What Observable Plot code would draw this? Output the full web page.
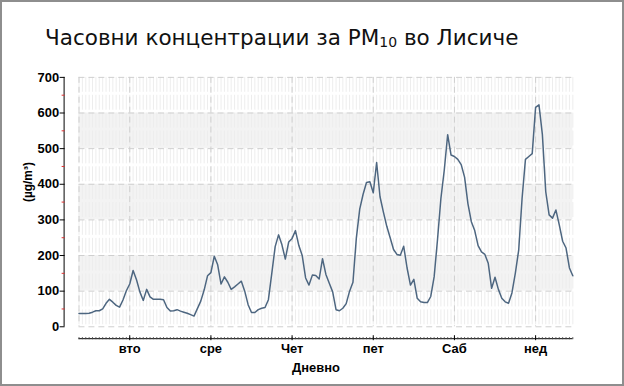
<!DOCTYPE html>
<html><head><meta charset="utf-8">
<script src="https://cdn.jsdelivr.net/npm/d3@7"></script>
<script src="https://cdn.jsdelivr.net/npm/@observablehq/plot@0.6"></script>
<style>
html,body{margin:0;padding:0;background:#fff;}
#frame{position:relative;width:624px;height:386px;box-sizing:border-box;border:2px solid #8e8e8e;overflow:hidden;background:#fff;}
#title{position:absolute;left:43px;top:23px;font-family:"DejaVu Sans";font-size:21.5px;color:#111;white-space:nowrap;}
#title sub{font-size:14px;vertical-align:-2px;line-height:0;}
#chart{position:absolute;left:-2px;top:58px;}
</style></head>
<body>
<div id="frame">
<div id="title">Часовни концентрации за PM<sub>10</sub> во Лисиче</div>
<div id="chart"></div>
</div>
<script>
// hourly PM10 values, Monday 09:00 → Sunday 11:00
const pm10 = [37,37,37,38,41,45,45,50,66,77,69,60,55,75,101,120,158,132,98,74,105,84,77,77,77,76,54,44,45,48,44,41,38,34,30,51,72,103,143,152,198,174,120,140,125,105,112,120,128,100,62,40,40,48,52,54,76,150,225,258,230,190,238,248,270,228,200,137,117,145,144,134,191,147,122,98,48,45,52,65,100,125,249,330,372,405,407,376,461,365,322,282,250,217,203,201,226,165,117,133,80,70,68,68,85,140,245,360,440,539,482,478,470,455,420,345,295,270,228,210,203,178,108,139,105,80,70,66,95,150,215,360,470,478,486,616,623,540,379,314,305,328,286,240,221,165,143];
const dayTickHours = [15,39,63,87,111,135];
const dayLabels = ["вто","сре","Чет","пет","Саб","нед"];
const yTicks = [0,100,200,300,400,500,600,700];
const yMinorTicks = [50,150,250,350,450,550,650];
const bandStarts = [100,300,500];
const yLabel = "(µg/m³)";
const xLabel = "Дневно";

const hours = pm10.map((d,i)=>i);
const series = pm10.map((v,i)=>({h:i, v}));
const lastHour = pm10.length-1;
const bands = bandStarts.map(b=>({y1:b, y2:b+100}));
const axisFont = "Liberation Sans";

const chart = Plot.plot({
  width: 626, height: 328,
  marginLeft: 79, marginRight: 50, marginTop: 17, marginBottom: 60,
  style: {fontFamily: axisFont, fontSize: "12px", background: "transparent"},
  x: {domain: [0, lastHour], axis: null},
  y: {domain: [0, 700], axis: null},
  marks: [
    Plot.rect(bands, {x1: ()=>0, x2: ()=>lastHour, y1: "y1", y2: "y2", fill: "#f3f3f3"}),
    Plot.ruleX(hours, {stroke: "#ededed", strokeWidth: 1, strokeDasharray: "15,3"}),
    Plot.ruleY(yTicks, {stroke: "#cfcfcf", strokeDasharray: "6,4"}),
    Plot.ruleX([0, ...dayTickHours], {stroke: "#cfcfcf", strokeDasharray: "6,4"}),
    Plot.line(series, {x: "h", y: "v", stroke: "#4d6680", strokeWidth: 1.5}),
    // y axis
    Plot.ruleX([0], {y1: ()=>0, y2: ()=>700, dx: -15, stroke: "#000"}),
    Plot.axisY({ticks: yTicks, tickSize: 5, tickPadding: 1, dx: -14, label: null, fontWeight: "bold", fontSize: 13, fill: "#000", stroke: "#000"}),
    Plot.axisY({ticks: yMinorTicks, tickSize: 3, text: null, label: null, dx: -14, stroke: "#e03030"}),
    Plot.text([yLabel], {frameAnchor: "left", dx: -51, rotate: -90, fontWeight: "bold", fontSize: 12, fill: "#000"}),
    // x axis
    Plot.ruleY([0], {dy: 12, stroke: "#000"}),
    Plot.axisX({ticks: hours, tickSize: 2, text: null, label: null, dy: 11, stroke: "#444"}),
    Plot.axisX({ticks: dayTickHours, tickSize: 5, dy: 9, tickPadding: 3, label: null, tickFormat: (d,i)=>dayLabels[i], fontWeight: "bold", fontSize: 13, fill: "#000", stroke: "#000"}),
    Plot.text([xLabel], {frameAnchor: "bottom", dy: 46, dx: -10, fontWeight: "bold", fontSize: 13, fill: "#000"})
  ]
});
document.getElementById("chart").appendChild(chart);
</script>
</body></html>
